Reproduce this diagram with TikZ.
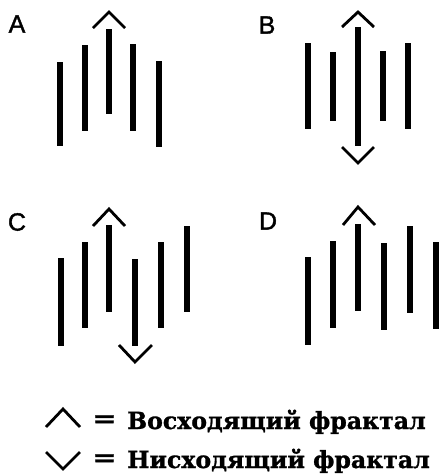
\documentclass[tikz,border=0pt]{standalone}
\usepackage{fontspec}
\newfontfamily\legfont{DejaVu Serif}[FakeBold=1.2]
\newfontfamily\lblfont{Liberation Sans}[FakeBold=1.5]
\begin{document}
\begin{tikzpicture}[x=1pt,y=-1pt,
  bar/.style={line width=5.5pt,line cap=butt},
  chev/.style={line width=2.8pt,line join=miter,line cap=butt},
  lbl/.style={font=\lblfont\fontsize{25}{28}\selectfont,inner sep=0pt},
  leg/.style={font=\legfont\bfseries\fontsize{23.6}{28}\selectfont,inner sep=0pt}]
\useasboundingbox (0,0) rectangle (440,475);
% labels
\node[lbl] (lA) at (17,24) {A};
\node[lbl] (lB) at (267,25) {B};
\node[lbl] (lC) at (17,222) {C};
\node[lbl] (lD) at (268,221) {D};
% panel A
\foreach \x/\a/\b in {60/62/146,85/45/131,109/29/114,133/44/131,159/61/147}
  \draw[bar] (\x,\a) -- (\x,\b);
\draw[chev] (93,28) -- (109,12) -- (125,28);
% panel B
\foreach \x/\a/\b in {308/43/129,333/52/121,358/27/146,383/51/121,408/43/129}
  \draw[bar] (\x,\a) -- (\x,\b);
\draw[chev] (342,27) -- (358,12) -- (374,27);
\draw[chev] (342,147) -- (358,163) -- (374,147);
% panel C
\foreach \x/\a/\b in {61/258/346,85/242/328,109/225/312,135/259/346,161/242/328,187/226/312}
  \draw[bar] (\x,\a) -- (\x,\b);
\draw[chev] (93,226) -- (109,209) -- (125,226);
\draw[chev] (119,345) -- (135,362) -- (152,345);
% panel D
\foreach \x/\a/\b in {308/257/345,333/241/328,358/224/311,384/243/330,410/226/313,436/242/329}
  \draw[bar] (\x,\a) -- (\x,\b);
\draw[chev] (343,225) -- (358,207) -- (375,225);
% legend
\draw[chev] (46,427) -- (63,409) -- (80,427);
\draw[chev] (46,452) -- (63,469) -- (80,452);
\node[leg,xscale=1.2] (eq1) at (104.5,421) {=};
\node[leg,xscale=1.2] (eq2) at (104.5,460) {=};
\node[leg,anchor=base west] (t1) at (127,429) {Восходящий фрактал};
\node[leg,anchor=base west] (t2) at (127,468) {Нисходящий фрактал};
\end{tikzpicture}
\end{document}
